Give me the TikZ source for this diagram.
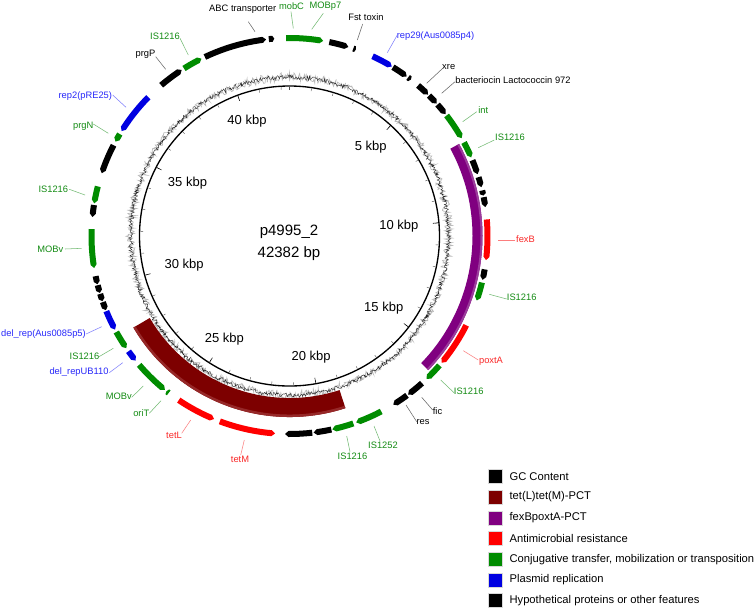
\documentclass[tikz,border=0pt]{standalone}
\usepackage{fontspec}
\setmainfont{Liberation Sans}
\definecolor{fgreen}{RGB}{0,140,0}
\definecolor{fblue}{RGB}{0,0,225}
\definecolor{fred}{RGB}{255,0,0}
\definecolor{dred}{RGB}{125,0,0}
\definecolor{dredl}{RGB}{150,40,40}
\definecolor{purp}{RGB}{128,0,128}
\definecolor{purpl}{RGB}{155,60,155}
\definecolor{lgreen}{RGB}{20,140,20}
\definecolor{lblue}{RGB}{40,40,250}
\definecolor{lred}{RGB}{250,40,40}
\newcommand{\feat}[3]{%
  \pgfmathsetmacro{\ftA}{#1-90}%
  \pgfmathsetmacro{\ftC}{#2-90}%
  \pgfmathsetmacro{\ftL}{min(1.0,0.35*abs(#2-#1))*sign(#2-#1)}%
  \pgfmathsetmacro{\ftB}{\ftC-\ftL}%
  \fill[#3] (\ftA:201) arc[start angle=\ftA, end angle=\ftB, radius=201] -- (\ftC:198) -- (\ftB:195) arc[start angle=\ftB, end angle=\ftA, radius=195] -- cycle;%
}
\newcommand{\band}[5]{%
  \pgfmathsetmacro{\bdA}{#1-90}%
  \pgfmathsetmacro{\bdB}{#2-90}%
  \fill[#5] (\bdA:#3) arc[start angle=\bdA, end angle=\bdB, radius=#3] -- (\bdB:#4) arc[start angle=\bdB, end angle=\bdA, radius=#4] -- cycle;%
}
\tikzset{
  kbp/.style={font=\fontsize{9.75}{11}\selectfont, inner sep=1pt},
  lab/.style={font=\fontsize{7}{8}\selectfont, inner sep=0pt},
  lead/.style={line width=0.4pt},
  legtxt/.style={font=\fontsize{8.4}{10}\selectfont, anchor=west, inner sep=0pt},
  legbox/.style={draw=black!15, line width=0.3pt}
}
\begin{document}
\begin{tikzpicture}[x=0.75pt,y=-0.75pt]
\useasboundingbox (0,0) rectangle (755,608);
\fill[white] (0,0) rectangle (755,608);
\begin{scope}[shift={(289.5,236)}]
  % GC content
  \pgfmathsetseed{4995}
  \draw[gray!55, line width=0.5pt] plot[domain=-90:270, samples=1100, variable=\t] (\t:{159+9*(rnd-0.5)}) -- cycle;
  \draw[black!85, line width=0.3pt] plot[domain=-90:270, samples=1100, variable=\t] (\t:{159+4.6*(rnd-0.5)}) -- cycle;
  % backbone circle
  \draw[line width=1pt] (0,0) circle[radius=150];
  \foreach \k in {0,...,42}{
    \pgfmathsetmacro{\th}{\k/42.382*360-90}
    \draw[line width=0.3pt, black!70] (\th:149) -- (\th:146.5);
  }
  \foreach \k in {5,10,...,40}{
    \pgfmathsetmacro{\al}{\k/42.382*360}
    \pgfmathsetmacro{\th}{\al-90}
    \pgfmathsetmacro{\an}{mod(450-\al,360)}
    \draw[line width=0.4pt] (\th:149) -- (\th:144);
    \node[kbp, anchor=\an] (k\k) at (\th:131) {\k\ kbp};
  }
  % PCT rings
  \band{61.5}{134}{183}{193}{purp}
  \band{61.5}{134}{191}{193}{purpl}
  \band{162}{239.6}{162}{181}{dred}
  \band{162}{239.6}{178.5}{181}{dredl}
  % features
  \feat{334.7}{353.2}{black}
  \feat{354.0}{355.6}{black}
  \feat{-1}{9.8}{fgreen}
  \feat{11.6}{17.3}{black}
  \feat{18.8}{19.6}{black}
  \feat{24.8}{31.1}{fblue}
  \feat{31.5}{36.3}{black}
  \feat{36.8}{37.8}{black}
  \feat{40.5}{44.4}{black}
  \feat{44.8}{48.0}{black}
  \feat{48.4}{52.0}{black}
  \feat{52.5}{60.4}{fgreen}
  \feat{61.8}{66.6}{fgreen}
  \feat{67.5}{71.8}{black}
  \feat{72.7}{75.7}{black}
  \feat{76.7}{78.2}{black}
  \feat{78.7}{81.6}{black}
  \feat{85.2}{97.0}{fred}
  \feat{99.7}{102.8}{black}
  \feat{103.6}{109.0}{fgreen}
  \feat{116.8}{129.8}{fred}
  \feat{130.8}{136.2}{fgreen}
  \feat{138.0}{143.2}{black}
  \feat{143.6}{148.4}{black}
  \feat{152.4}{160.3}{fgreen}
  \feat{161.2}{167.5}{fgreen}
  \feat{167.8}{173.0}{black}
  \feat{173.4}{181.3}{black}
  \feat{200.6}{184.2}{fred}
  \feat{214.0}{202.4}{fred}
  \feat{217.6}{218.4}{fgreen}
  \feat{229.4}{219.0}{fgreen}
  \feat{234.4}{231.0}{fblue}
  \feat{241.0}{235.5}{fgreen}
  \feat{247.7}{241.8}{fblue}
  \feat{250.5}{248.0}{black}
  \feat{253.0}{250.8}{black}
  \feat{255.6}{253.3}{black}
  \feat{258.3}{255.9}{black}
  \feat{272.0}{260.7}{fgreen}
  \feat{279.0}{275.5}{black}
  \feat{284.5}{279.5}{fgreen}
  \feat{297.3}{288.5}{black}
  \feat{301.0}{298.5}{fgreen}
  \feat{314.5}{302.0}{fblue}
  \feat{319.6}{327.0}{black}
  \feat{327.8}{333.6}{fgreen}
\end{scope}
% centre title
\node[font=\fontsize{11.25}{13}\selectfont, inner sep=0pt] (title) at (289,232) {p4995\_2};
\node[font=\fontsize{11.25}{13}\selectfont, inner sep=0pt] (size) at (289,254) {42382 bp};
% labels and leaders
\node[lab] (n1) at (242.7,9.5) {ABC transporter};
\coordinate (a1) at (248.3,21.7); \coordinate (b1) at (255,31.7);
\draw[lead, black!60] (a1) -- (b1);
\node[lab, text=lgreen] (n2) at (291.5,6) {mobC};
\coordinate (a2) at (291,11.7); \coordinate (b2) at (293.3,28.3);
\draw[lead, lgreen!60] (a2) -- (b2);
\node[lab, text=lgreen] (n3) at (325.5,6.5) {MOBp7};
\coordinate (a3) at (323.3,13.3); \coordinate (b3) at (311.7,29.3);
\draw[lead, lgreen!60] (a3) -- (b3);
\node[lab] (n4) at (366,17) {Fst toxin};
\coordinate (a4) at (362.7,24); \coordinate (b4) at (357.3,40);
\draw[lead, black!60] (a4) -- (b4);
\node[lab, text=lblue] (n5) at (435.5,36) {rep29(Aus0085p4)};
\coordinate (a5) at (397.3,35); \coordinate (b5) at (387.3,52.7);
\draw[lead, lblue!60] (a5) -- (b5);
\node[lab] (n6) at (448.7,67) {xre};
\coordinate (a6) at (442.7,68.3); \coordinate (b6) at (426.7,83.3);
\draw[lead, black!60] (a6) -- (b6);
\node[lab] (n7) at (513,80) {bacteriocin Lactococcin 972};
\coordinate (a7) at (455,81.7); \coordinate (b7) at (441.7,93.3);
\draw[lead, black!60] (a7) -- (b7);
\node[lab, text=lgreen] (n8) at (483.3,109.7) {int};
\coordinate (a8) at (476.7,111.7); \coordinate (b8) at (462.7,121.7);
\draw[lead, lgreen!60] (a8) -- (b8);
\node[lab, text=lgreen] (n9) at (510,137.5) {IS1216};
\coordinate (a9) at (494.3,140); \coordinate (b9) at (478.3,147.7);
\draw[lead, lgreen!60] (a9) -- (b9);
\node[lab, text=lred] (n10) at (525.5,239) {fexB};
\coordinate (a10) at (515,240.7); \coordinate (b10) at (497.7,240.7);
\draw[lead, lred!60] (a10) -- (b10);
\node[lab, text=lgreen] (n11) at (521.7,297.5) {IS1216};
\coordinate (a11) at (506.7,299); \coordinate (b11) at (489.3,294.3);
\draw[lead, lgreen!60] (a11) -- (b11);
\node[lab, text=lred] (n12) at (491,361) {poxtA};
\coordinate (a12) at (478.3,360); \coordinate (b12) at (463.3,350.7);
\draw[lead, lred!60] (a12) -- (b12);
\node[lab, text=lgreen] (n13) at (468.7,391) {IS1216};
\coordinate (a13) at (454,392.7); \coordinate (b13) at (440.7,380);
\draw[lead, lgreen!60] (a13) -- (b13);
\node[lab] (n14) at (437.5,410.7) {fic};
\coordinate (a14) at (432.7,410); \coordinate (b14) at (421.7,397.3);
\draw[lead, black!60] (a14) -- (b14);
\node[lab] (n15) at (423,422) {res};
\coordinate (a15) at (416.7,421.7); \coordinate (b15) at (406,405);
\draw[lead, black!60] (a15) -- (b15);
\node[lab, text=lgreen] (n16) at (383,445) {IS1252};
\coordinate (a16) at (380,441); \coordinate (b16) at (374,426);
\draw[lead, lgreen!60] (a16) -- (b16);
\node[lab, text=lgreen] (n17) at (352.5,456.5) {IS1216};
\coordinate (a17) at (350,451.7); \coordinate (b17) at (346.7,436);
\draw[lead, lgreen!60] (a17) -- (b17);
\node[lab, text=lred] (n18) at (240,459) {tetM};
\coordinate (a18) at (240.7,455); \coordinate (b18) at (244.3,440);
\draw[lead, lred!60] (a18) -- (b18);
\node[lab, text=lred] (n19) at (174,435) {tetL};
\coordinate (a19) at (181.7,433.3); \coordinate (b19) at (190.7,420);
\draw[lead, lred!60] (a19) -- (b19);
\node[lab, text=lgreen] (n20) at (141.3,413.3) {oriT};
\coordinate (a20) at (149.3,413.3); \coordinate (b20) at (161,400.7);
\draw[lead, lgreen!60] (a20) -- (b20);
\node[lab, text=lgreen] (n21) at (118.8,396) {MOBv};
\coordinate (a21) at (131.7,397.3); \coordinate (b21) at (143.3,386);
\draw[lead, lgreen!60] (a21) -- (b21);
\node[lab, text=lblue] (n22) at (79,372) {del\_repUB110};
\coordinate (a22) at (109.3,372.7); \coordinate (b22) at (122.7,362.7);
\draw[lead, lblue!60] (a22) -- (b22);
\node[lab, text=lgreen] (n23) at (84.5,355.8) {IS1216};
\coordinate (a23) at (99,356.7); \coordinate (b23) at (113.3,348.3);
\draw[lead, lgreen!60] (a23) -- (b23);
\node[lab, text=lblue] (n24) at (43.5,334) {del\_rep(Aus0085p5)};
\coordinate (a24) at (86,334); \coordinate (b24) at (101.7,326.7);
\draw[lead, lblue!60] (a24) -- (b24);
\node[lab, text=lgreen] (n25) at (50.3,249) {MOBv};
\coordinate (a25) at (65,249); \coordinate (b25) at (81.7,248.3);
\draw[lead, lgreen!60] (a25) -- (b25);
\node[lab, text=lgreen] (n26) at (53.3,189) {IS1216};
\coordinate (a26) at (69.3,189.3); \coordinate (b26) at (85,195);
\draw[lead, lgreen!60] (a26) -- (b26);
\node[lab, text=lgreen] (n27) at (83.3,126) {prgN};
\coordinate (a27) at (93.3,124); \coordinate (b27) at (108.3,133.3);
\draw[lead, lgreen!60] (a27) -- (b27);
\node[lab, text=lblue] (n28) at (85.3,96) {rep2(pRE25)};
\coordinate (a28) at (112.7,95); \coordinate (b28) at (126,107.3);
\draw[lead, lblue!60] (a28) -- (b28);
\node[lab] (n29) at (145.5,54) {prgP};
\coordinate (a29) at (155.7,56.7); \coordinate (b29) at (165.7,69.3);
\draw[lead, black!60] (a29) -- (b29);
\node[lab, text=lgreen] (n30) at (165,36.7) {IS1216};
\coordinate (a30) at (180,38.3); \coordinate (b30) at (188.3,55);
\draw[lead, lgreen!60] (a30) -- (b30);
% legend
\foreach \c/\t [count=\i from 0] in {black/GC Content, dred/tet(L)tet(M)-PCT, purp/fexBpoxtA-PCT, fred/Antimicrobial resistance, fgreen/{Conjugative transfer, mobilization or transposition}, fblue/Plasmid replication, black/Hypothetical proteins or other features}{
  \pgfmathsetmacro{\yy}{476.3+20.7*\i}
  \fill[\c, legbox] (488.3,\yy-7) rectangle (502.5,\yy+7);
  \node[legtxt] (leg\i) at (509.3,\yy) {\t};
}
\end{tikzpicture}
\end{document}
